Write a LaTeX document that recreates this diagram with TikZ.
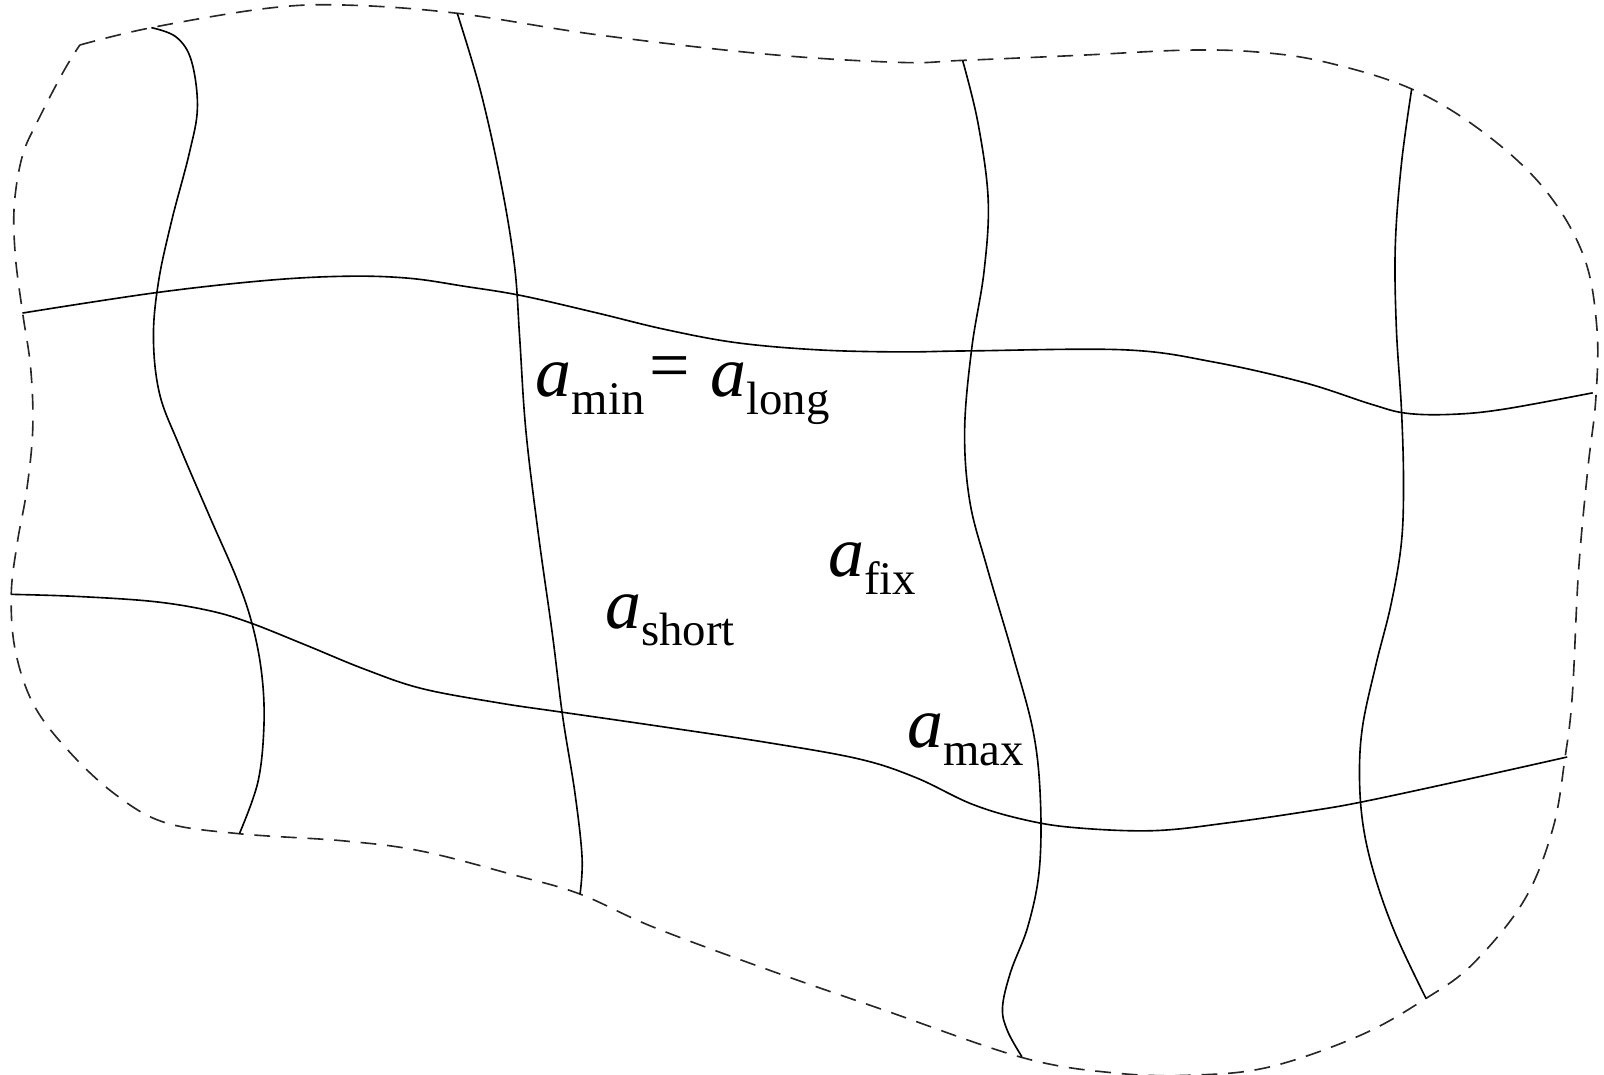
\documentclass[tikz,border=0pt]{standalone}
\usepackage{fontspec}
\setmainfont{Liberation Serif}
\newcommand\mylab[2]{\textit{#1}\raisebox{-4.8pt}{\fontsize{13}{13}\selectfont #2}}
\begin{document}
\begin{tikzpicture}[x=0.01cm,y=-0.01cm,
  gridline/.style={line width=0.45pt, black},
  border/.style={line width=0.45pt, dash pattern=on 4.4pt off 3pt, black!85},
  lab/.style={anchor=base west, inner sep=0pt, font=\fontsize{20}{20}\selectfont}]
\useasboundingbox (0,0) rectangle (1568,1050);

% dashed outer boundary
\draw[border] plot[smooth, tension=0.6] coordinates {
 (78,44) (148,27) (262,8) (340,5) (447,13) (584,34) (750,53) (880,61)
 (941,59) (1056,54) (1160,49) (1231,51) (1297,61) (1380,87) (1451,130)
 (1510,185) (1548,250) (1561,320) (1560,390) (1552,460) (1543,560)
 (1537,680) (1530,740) (1518,810) (1490,880) (1440,942) (1394,976)
 (1330,1012) (1241,1043) (1166,1051) (1091,1049) (1000,1034) (863,987)
 (751,948) (638,906) (567,874) (505,856) (412,832) (336,822) (234,815)
 (161,804) (112,776) (67,734) (33,689) (15,636) (11,581) (17,530)
 (26,480) (32,420) (30,360) (22,305) (15,250) (14,200) (22,152) (37,118)
 (62,70) (78,44)};

% vertical grid lines
\draw[gridline] plot[smooth, tension=0.6] coordinates {
 (148,27) (172,36) (187,59) (193,105) (185,150) (168,215) (155,275)
 (150,330) (156,385) (175,435) (205,505) (232,567) (247,612) (256,660)
 (258,710) (252,765) (234,815)};
\draw[gridline] plot[smooth, tension=0.6] coordinates {
 (447,13) (470,90) (490,180) (503,260) (508,330) (514,420) (526,520)
 (540,620) (550,700) (562,775) (569,838) (567,874)};
\draw[gridline] plot[smooth, tension=0.6] coordinates {
 (941,59) (956,120) (966,195) (962,265) (950,340) (943,420) (948,490)
 (965,555) (990,640) (1010,715) (1017,780) (1016,850) (1005,905)
 (988,950) (980,985) (985,1008) (999,1033)};
\draw[gridline] plot[smooth, tension=0.6] coordinates {
 (1380,87) (1370,160) (1364,240) (1365,320) (1370,400) (1372,470)
 (1370,530) (1360,590) (1345,650) (1332,710) (1329,760) (1333,810)
 (1345,860) (1365,915) (1394,976)};

% horizontal grid lines
\draw[gridline] plot[smooth, tension=0.6] coordinates {
 (22,306) (153,286) (262,274) (340,270) (400,272) (455,280) (510,289)
 (584,306) (650,322) (720,335) (800,342) (880,344) (948,343) (1100,342)
 (1187,354) (1275,374) (1340,395) (1375,404) (1420,405) (1470,400)
 (1557,384)};
\draw[gridline] plot[smooth, tension=0.6] coordinates {
 (11,581) (75,583) (150,588) (205,597) (245,609) (300,631) (356,654)
 (412,673) (487,687) (548,696) (638,709) (751,726) (840,742) (895,760)
 (950,786) (1000,801) (1050,809) (1128,812) (1203,804) (1279,793)
 (1331,784) (1429,763) (1532,740)};

% labels
\node[lab] (amin) at (523,388) {\mylab{a}{min}\hspace{0.05cm}\raisebox{2pt}{=}\hspace{0.2cm}\mylab{a}{long}};
\node[lab] (ashort) at (591,614) {\mylab{a}{short}};
\node[lab] (afix) at (809,564) {\mylab{a}{fix}};
\node[lab] (amax) at (886,731) {\mylab{a}{max}};
\end{tikzpicture}
\end{document}
